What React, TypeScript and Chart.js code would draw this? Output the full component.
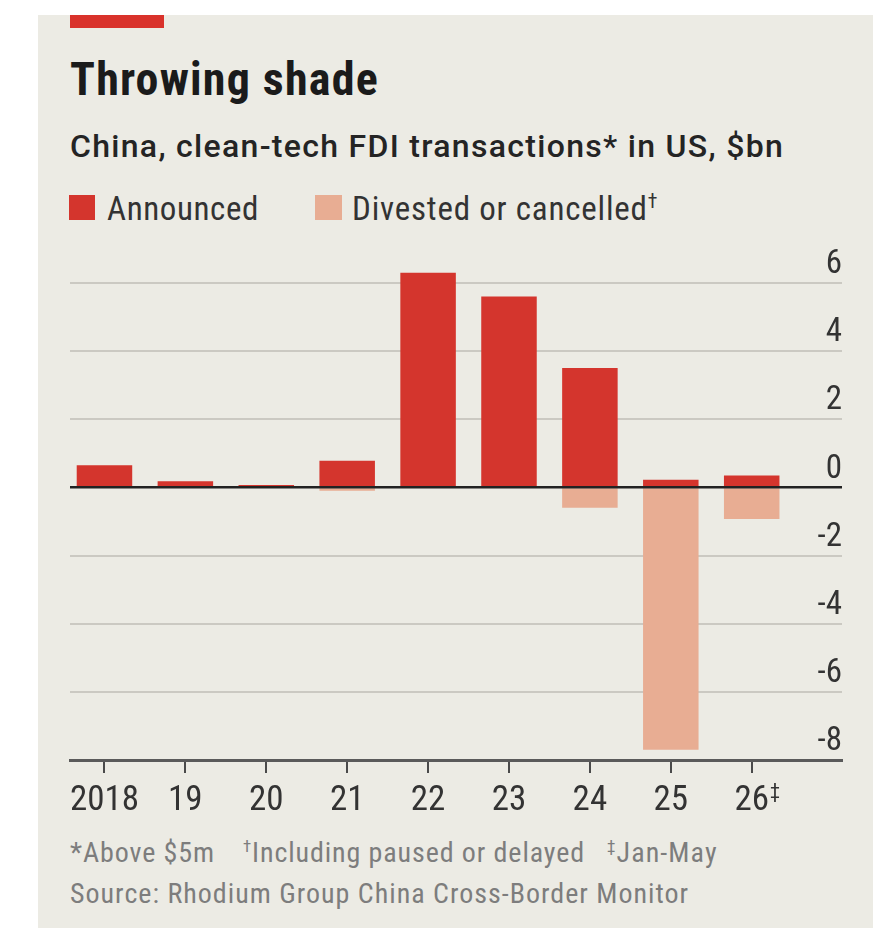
import React, { useEffect, useRef } from "react";
import { Chart, registerables } from "chart.js";

Chart.register(...registerables);

// Years on the axis (2026 is a partial year, flagged with ‡)
const years = ["2018", "19", "20", "21", "22", "23", "24", "25", "26"];
// China clean-tech FDI transactions in the US, $bn
const announced = [0.65, 0.18, 0.07, 0.78, 6.3, 5.6, 3.5, 0.22, 0.35];
const divested = [0, 0, 0, -0.1, 0, 0, -0.6, -7.7, -0.93];
const yTicks = [-8, -6, -4, -2, 0, 2, 4, 6];

const FONT =
  '"Liberation Sans Narrow", "Roboto Condensed", "DejaVu Sans Condensed", "Liberation Sans", sans-serif';

const RED = "#d4352d";
const PINK = "#e8ad93";
const PANEL = "#ecebe4";

const CANVAS_TOP = 229;

// Zero line sits on top of the bars; the ‡ mark is a small superscript on the last year
const overlayPlugin = {
  id: "overlay",
  afterDatasetsDraw(chart: any) {
    const { ctx, chartArea, scales } = chart;
    const y0 = scales.y.getPixelForValue(0);
    ctx.save();
    ctx.strokeStyle = "#222222";
    ctx.lineWidth = 2.5;
    ctx.beginPath();
    ctx.moveTo(chartArea.left, y0);
    ctx.lineTo(chartArea.right, y0);
    ctx.stroke();
    ctx.restore();
  },
  afterDraw(chart: any) {
    const { ctx, scales } = chart;
    const last = years.length - 1;
    ctx.save();
    ctx.font = `35px ${FONT}`;
    const w = ctx.measureText(years[last]).width;
    const x = scales.x.getPixelForValue(last) + w / 2 + 1;
    ctx.font = `20px ${FONT}`;
    ctx.fillStyle = "#333333";
    ctx.textBaseline = "top";
    ctx.textAlign = "left";
    ctx.fillText("‡", x, scales.x.top + 23);
    ctx.restore();
  },
};

function BarChart() {
  const ref = useRef<HTMLCanvasElement | null>(null);

  useEffect(() => {
    if (!ref.current) return;
    const chart = new Chart(ref.current, {
      type: "bar",
      data: {
        datasets: [
          {
            label: "Announced",
            data: announced.map((v, i) => ({ x: i, y: v })),
            backgroundColor: RED,
            borderWidth: 0,
            categoryPercentage: 1,
            barPercentage: 0.686,
          },
          {
            label: "Divested or cancelled",
            data: divested.map((v, i) => ({ x: i, y: v })),
            backgroundColor: PINK,
            borderWidth: 0,
            categoryPercentage: 1,
            barPercentage: 0.686,
          },
        ],
      },
      plugins: [overlayPlugin],
      options: {
        animation: false,
        responsive: false,
        maintainAspectRatio: false,
        layout: { padding: { left: 32, right: 31, top: 10, bottom: 0 } },
        plugins: { legend: { display: false }, tooltip: { enabled: false } },
        scales: {
          x: {
            type: "linear",
            stacked: true,
            offset: false,
            min: -0.426,
            max: 9.116,
            afterBuildTicks: (axis: any) => {
              axis.ticks = years.map((_, i) => ({ value: i }));
            },
            afterFit: (axis: any) => {
              axis.height = 70;
            },
            grid: {
              offset: false,
              drawOnChartArea: false,
              drawTicks: true,
              tickLength: 13,
              color: "#4a4a4a",
              lineWidth: 2,
            },
            border: { display: true, color: "#5a5a5a", width: 3 },
            ticks: {
              autoSkip: false,
              maxRotation: 0,
              padding: 7,
              color: "#333333",
              font: { family: FONT, size: 35 },
              callback: (v: any) => years[Math.round(Number(v))] ?? "",
            },
          },
          y: {
            position: "right",
            stacked: true,
            min: -8,
            max: 7,
            afterBuildTicks: (axis: any) => {
              axis.ticks = yTicks.map((v) => ({ value: v }));
            },
            afterFit: (axis: any) => {
              axis.width = 0;
            },
            grid: {
              drawTicks: false,
              color: (c: any) =>
                c.tick && (c.tick.value === 0 || c.tick.value === -8)
                  ? "rgba(0,0,0,0)"
                  : "#cbc9c2",
              lineWidth: 2,
            },
            border: { display: false },
            ticks: {
              mirror: true,
              padding: 0,
              labelOffset: -18,
              color: "#333333",
              font: { family: FONT, size: 33 },
              callback: (v: any) => String(v),
            },
          },
        },
      },
    });
    return () => chart.destroy();
  }, []);

  return (
    <canvas
      ref={ref}
      width={835}
      height={601}
      style={{ position: "absolute", left: 38, top: CANVAS_TOP, width: 835, height: 601 }}
    />
  );
}

const abs = (left: number, top: number, size: number, extra: any = {}) => ({
  position: "absolute" as const,
  left,
  top,
  fontSize: size,
  lineHeight: `${size}px`,
  fontFamily: FONT,
  whiteSpace: "nowrap" as const,
  margin: 0,
  ...extra,
});

const sup = { fontSize: "0.6em", verticalAlign: "0.6em", lineHeight: 0 };

export default function App() {
  return (
    <div
      style={{
        position: "absolute",
        left: 0,
        top: 0,
        width: 892,
        height: 945,
        background: "#ffffff",
        overflow: "hidden",
      }}
    >
      <div
        style={{
          position: "absolute",
          left: 38,
          top: 15,
          width: 835,
          height: 913,
          background: PANEL,
        }}
      />
      <div style={{ position: "absolute", left: 70, top: 15, width: 94, height: 13, background: "#d9322b" }} />
      <div style={abs(70, 56, 46, { fontWeight: 700, color: "#1b1b1b", letterSpacing: "1.2px" })}>
        Throwing shade
      </div>
      <div
        style={abs(70, 130, 32, {
          fontWeight: 500,
          fontFamily: 'Roboto, "Liberation Sans", sans-serif',
          color: "#242424",
          letterSpacing: "1.3px",
        })}
      >
        China, clean-tech FDI transactions* in US, $bn
      </div>
      <div style={{ position: "absolute", left: 69, top: 195, width: 26, height: 25, background: RED }} />
      <div style={abs(107, 192, 33, { color: "#333333", letterSpacing: "0.6px" })}>Announced</div>
      <div style={{ position: "absolute", left: 315, top: 195, width: 27, height: 25, background: PINK }} />
      <div style={abs(352, 192, 33, { color: "#333333", letterSpacing: "0.8px" })}>
        Divested or cancelled<span style={sup}>†</span>
      </div>
      <BarChart />
      <div style={abs(70, 839, 28, { color: "#7d7d7d", letterSpacing: "0.9px" })}>*Above $5m</div>
      <div style={abs(243, 839, 28, { color: "#7d7d7d", letterSpacing: "0.9px" })}>
        <span style={sup}>†</span>Including paused or delayed
      </div>
      <div style={abs(607, 839, 28, { color: "#7d7d7d", letterSpacing: "1.1px" })}>
        <span style={sup}>‡</span>Jan-May
      </div>
      <div style={abs(70, 880, 28, { color: "#7d7d7d", letterSpacing: "1px" })}>
        Source: Rhodium Group China Cross-Border Monitor
      </div>
    </div>
  );
}
